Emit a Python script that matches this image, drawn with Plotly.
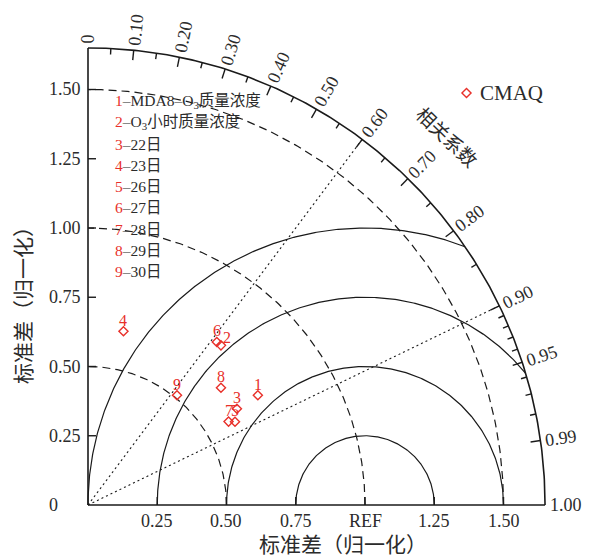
import numpy as np
import plotly.graph_objects as go

# ---------------- data ----------------
point_labels = ["1", "2", "3", "4", "5", "6", "7", "8", "9"]
std_norm = [0.73, 0.75, 0.64, 0.64, 0.61, 0.75, 0.59, 0.64, 0.51]
corr = [0.84, 0.64, 0.84, 0.20, 0.87, 0.62, 0.86, 0.75, 0.63]
series_name = "CMAQ"

legend_desc = ["MDA8–O<sub>3</sub>质量浓度", "O<sub>3</sub>小时质量浓度", "22日", "23日",
               "26日", "27日", "28日", "29日", "30日"]

std_ticks = [0.25, 0.50, 0.75, 1.00, 1.25, 1.50]
x_tick_text = ["0.25", "0.50", "0.75", "REF", "1.25", "1.50"]
y_ticks = [0, 0.25, 0.50, 0.75, 1.00, 1.25, 1.50]
y_tick_text = ["0", "0.25", "0.50", "0.75", "1.00", "1.25", "1.50"]
corr_major = [0, 0.1, 0.2, 0.3, 0.4, 0.5, 0.6, 0.7, 0.8, 0.9, 0.95, 0.99, 1.0]
corr_major_text = ["0", "0.10", "0.20", "0.30", "0.40", "0.50", "0.60", "0.70",
                   "0.80", "0.90", "0.95", "0.99", "1.00"]
corr_minor = [0.05, 0.15, 0.25, 0.35, 0.45, 0.55, 0.65, 0.75, 0.85,
              0.91, 0.92, 0.93, 0.94, 0.96, 0.97, 0.98]
std_circles = [0.5, 1.0, 1.5]       # dashed
rms_circles = [0.25, 0.5, 0.75, 1.0]  # solid, centred at REF
corr_lines = [0.6, 0.9]             # dotted
RMAX = 1.65
REF = 1.0

# ---------------- styling ----------------
PX = 277.0  # pixels per unit
LINE = "#1a1a1a"
TEXT = "#2b2b2b"
RED = "#e8302a"
FONT = "Liberation Serif, Noto Sans CJK SC, serif"

# page has an 8px body margin -> figure occupies page (8,8)..(595,558)
OFF = 8
W, H = 595 - OFF, 558 - OFF
ORX, ORY = 88 - OFF, 505 - OFF          # origin in figure pixels
ML, MT, PW = 74, 26, 477                  # plot area
MR, MB = W - ML - PW, H - MT - PW
xmin = -(ORX - ML) / PX
ymin = -((MT + PW) - ORY) / PX
SPAN = PW / PX

fig = go.Figure()


def add_line(x, y, width=1.2, dash="solid", color=LINE):
    fig.add_trace(go.Scatter(x=x, y=y, mode="lines", hoverinfo="skip", showlegend=False,
                             line=dict(color=color, width=width, dash=dash)))


# std-dev dashed arcs
t = np.linspace(0, np.pi / 2, 200)
for r in std_circles:
    add_line(r * np.cos(t), r * np.sin(t), width=1.2, dash="8px,5px")

# RMS solid arcs centred on REF
for R in rms_circles:
    c = (RMAX ** 2 - REF ** 2 - R ** 2) / (2 * REF * R)
    phi0 = np.arccos(np.clip(c, -1, 1)) if c < 1 else 0.0
    phi = np.linspace(phi0, np.pi, 300)
    add_line(REF + R * np.cos(phi), R * np.sin(phi), width=1.2)

# correlation dotted lines
for c in corr_lines:
    th = np.arccos(c)
    add_line([0, RMAX * np.cos(th)], [0, RMAX * np.sin(th)], width=1.1, dash="2px,3px")

# outer arc + axes
add_line(RMAX * np.cos(t), RMAX * np.sin(t), width=1.6)
add_line([0, RMAX], [0, 0], width=1.6)
add_line([0, 0], [0, RMAX], width=1.6)

# outer-arc ticks
tx, ty = [], []
for clist, L in ((corr_major, 10), (corr_minor, 6)):
    for c in clist:
        if c in (0, 1.0):
            continue
        th = np.arccos(c)
        r0, r1 = RMAX, RMAX - L / PX
        tx += [r0 * np.cos(th), r1 * np.cos(th), None]
        ty += [r0 * np.sin(th), r1 * np.sin(th), None]
add_line(tx, ty, width=1.4)

# axis ticks
ax_x, ax_y = [], []
for v in y_ticks[1:]:
    ax_x += [0, 8 / PX, None]
    ax_y += [v, v, None]
for v in std_ticks:
    ax_x += [v, v, None]
    ax_y += [0, 8 / PX, None]
add_line(ax_x, ax_y, width=1.4)

# data points
th_pts = np.arccos(np.array(corr))
px_ = np.array(std_norm) * np.cos(th_pts)
py_ = np.array(std_norm) * np.sin(th_pts)
fig.add_trace(go.Scatter(x=px_, y=py_, mode="markers", name=series_name, showlegend=False,
                         marker=dict(symbol="diamond-open", size=7, color=RED,
                                     line=dict(width=1.4, color=RED))))

annotations = []


def ann(x, y, text, size, color=TEXT, angle=0, xanchor="center", yanchor="middle",
        xshift=0, yshift=0):
    annotations.append(dict(x=(x - xmin) / SPAN, y=(y - ymin) / SPAN, xref="paper", yref="paper",
                            text=text, showarrow=False,
                            font=dict(family=FONT, size=size, color=color),
                            textangle=angle, xanchor=xanchor, yanchor=yanchor,
                            xshift=xshift, yshift=yshift))


# point number labels
label_shift = {"2": (6, 8)}
for lab, x, y in zip(point_labels, px_, py_):
    dx, dy = label_shift.get(lab, (0, 11))
    ann(x, y, lab, 16, color=RED, xshift=dx, yshift=dy)

# outer arc labels
for c, txt in zip(corr_major, corr_major_text):
    th = np.arccos(c)
    half = 4.5 if len(txt) == 1 else 16.5
    rr = RMAX + (4 + half) / PX
    ann(rr * np.cos(th), rr * np.sin(th), txt, 18, angle=-np.degrees(th))

# y tick labels (left aligned)
for v, txt in zip(y_ticks, y_tick_text):
    ann(-41 / PX, v, txt, 18, xanchor="left")

# x tick labels
for v, txt in zip(std_ticks, x_tick_text):
    ann(v, 0, txt, 18, yanchor="top", yshift=-4)

# axis titles
ann((343 - 88) / PX, -40 / PX, "标准差（归一化）", 21)
ann(-64 / PX, 205 / PX, "标准差（归一化）", 21, angle=-90)
ann(1.292, 1.325, "相关系数", 19, angle=44)

# legend (top-right)
leg_x, leg_y = (466.5 - 88) / PX, (505 - 93) / PX
fig.add_trace(go.Scatter(x=[leg_x], y=[leg_y], mode="markers", showlegend=False, hoverinfo="skip",
                         marker=dict(symbol="diamond-open", size=7, color=RED,
                                     line=dict(width=1.4, color=RED))))
ann(leg_x, leg_y, series_name, 21, xanchor="left", xshift=11)

# left legend list
for i, (lab, desc) in enumerate(zip(point_labels, legend_desc)):
    yy = (505 - (101.7 + 21.25 * i)) / PX
    ann((112.5 - 88) / PX, yy,
        f"<span style='color:{RED}'>{lab}</span>–{desc}", 15.5, xanchor="left")

fig.update_layout(
    width=W, height=H,
    margin=dict(l=ML, r=MR, t=MT, b=MB, pad=0),
    paper_bgcolor="white", plot_bgcolor="white",
    xaxis=dict(range=[xmin, xmin + SPAN], visible=False, fixedrange=True),
    yaxis=dict(range=[ymin, ymin + SPAN], visible=False, fixedrange=True),
    annotations=annotations,
    showlegend=False,
)

fig.write_html("out.html")
